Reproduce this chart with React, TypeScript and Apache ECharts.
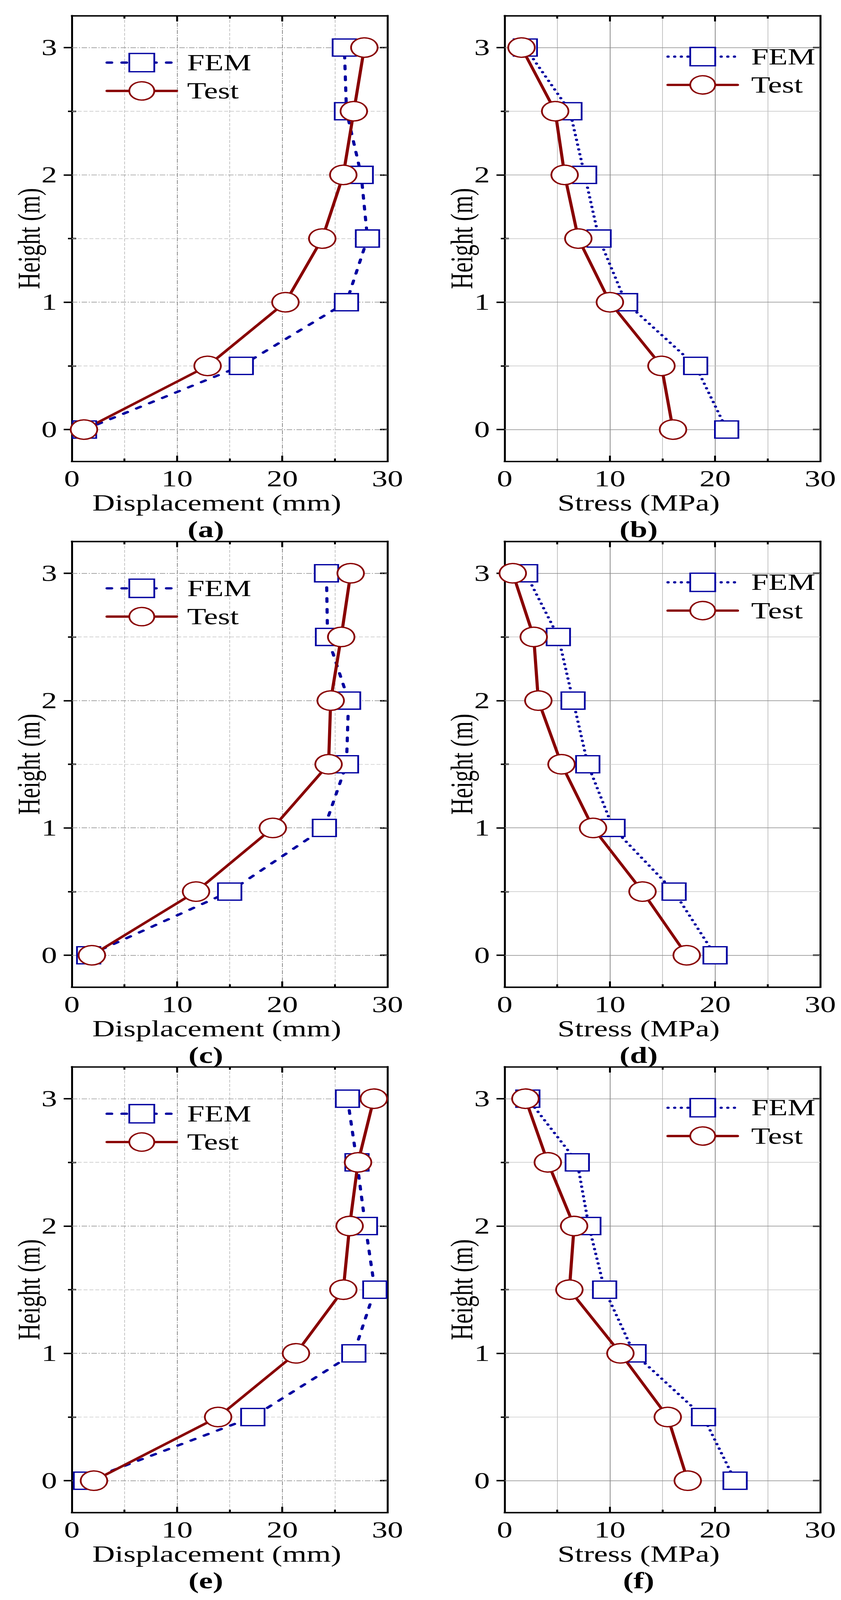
import { useEffect, useRef } from "react";
import * as echarts from "echarts";

// heights (m) where every profile is sampled
const heights = [0, 0.5, 1, 1.5, 2, 2.5, 3];
const yMajorTicks = [0, 1, 2, 3];
const yMinorTicks = [0.5, 1.5, 2.5];

// displacement (mm) / stress (MPa), listed bottom to top like `heights`
const femA = [1.2, 16.1, 26.1, 28.1, 27.5, 26.1, 25.9];
const testA = [1.15, 12.9, 20.3, 23.8, 25.8, 26.8, 27.8];
const femB = [21.1, 18.15, 11.5, 8.97, 7.6, 6.2, 1.96];
const testB = [16.0, 14.9, 10.0, 7.0, 5.7, 4.8, 1.6];
const femC = [1.6, 15.0, 24.0, 26.1, 26.3, 24.3, 24.2];
const testC = [1.9, 11.8, 19.1, 24.4, 24.6, 25.6, 26.5];
const femD = [20.0, 16.1, 10.3, 7.9, 6.5, 5.1, 2.0];
const testD = [17.3, 13.1, 8.4, 5.4, 3.2, 2.76, 0.77];
const femE = [1.3, 17.2, 26.8, 28.8, 27.9, 27.1, 26.2];
const testE = [2.1, 13.9, 21.3, 25.8, 26.4, 27.2, 28.7];
const femF = [21.9, 18.9, 12.3, 9.5, 8.0, 6.9, 2.2];
const testF = [17.4, 15.5, 11.0, 6.15, 6.6, 4.1, 1.97];

const FONT = '"Liberation Serif", "Times New Roman", serif';
const BLUE = "#0000a0";
const RED = "#880000";
const PAGE_W = 2153;
const PAGE_H = 5597;

type PanelDef = {
  label: string;
  xName: string;
  fem: number[];
  test: number[];
  stress: boolean; // right column: dotted FEM, legend top-right, solid grid
  col: number;
  row: number;
};

const panels: PanelDef[] = [
  { label: "(a)", xName: "Displacement (mm)", fem: femA, test: testA, stress: false, col: 0, row: 0 },
  { label: "(b)", xName: "Stress (MPa)", fem: femB, test: testB, stress: true, col: 1, row: 0 },
  { label: "(c)", xName: "Displacement (mm)", fem: femC, test: testC, stress: false, col: 0, row: 1 },
  { label: "(d)", xName: "Stress (MPa)", fem: femD, test: testD, stress: true, col: 1, row: 1 },
  { label: "(e)", xName: "Displacement (mm)", fem: femE, test: testE, stress: false, col: 0, row: 2 },
  { label: "(f)", xName: "Stress (MPa)", fem: femF, test: testF, stress: true, col: 1, row: 2 },
];

function buildOption(p: PanelDef): echarts.EChartsOption {
  const majorGrid = {
    color: "#8a8a8a",
    width: 2,
    type: p.stress ? ("solid" as const) : [14, 4, 3, 4],
  };
  const minorGrid = {
    color: "#c4c4c4",
    width: 2,
    type: p.stress ? ("solid" as const) : [10, 5],
  };
  const border = { color: "#000", width: 5, cap: "square" as const };
  const yBase = { type: "value" as const, min: -0.25, max: 3.25, splitLine: { show: false } };

  // horizontal grid lines (the y axis runs from -0.25, so they are drawn as mark lines)
  const yGridLines = [...yMajorTicks, ...yMinorTicks].map((v) => ({
    yAxis: v,
    lineStyle: yMajorTicks.includes(v) ? majorGrid : minorGrid,
  }));

  return {
    animation: false,
    textStyle: { fontFamily: FONT, color: "#000" },
    grid: { left: 184, top: 55, width: 808, height: 1559 },
    legend: {
      orient: "vertical",
      left: p.stress ? 598 : 270,
      top: p.stress ? 158 : 179,
      padding: 0,
      itemWidth: 178,
      itemHeight: 80,
      itemGap: 19,
      selectedMode: false,
      lineStyle: { width: 8 },
      itemStyle: { borderWidth: 4.5 },
      textStyle: { fontFamily: FONT, fontSize: 80, color: "#000", padding: [0, 0, 0, p.stress ? 30 : 22] },
      data: ["FEM", "Test"],
    },
    xAxis: [
      {
        type: "value",
        min: 0,
        max: 30,
        interval: 10,
        position: "bottom",
        name: p.xName,
        nameLocation: "middle",
        nameGap: 90,
        nameTextStyle: {
          fontFamily: FONT,
          fontSize: 80,
          color: "#000",
          padding: [0, p.stress ? 122 : 66, 0, 0],
        },
        axisLine: { onZero: false, lineStyle: border },
        axisTick: { inside: true, length: 20, lineStyle: { width: 5, color: "#000" } },
        minorTick: { show: true, splitNumber: 2, length: 10, lineStyle: { width: 5, color: "#000" } },
        axisLabel: { fontFamily: FONT, fontSize: 80, color: "#000", margin: 20 },
        splitLine: { show: true, showMinLine: false, showMaxLine: false, lineStyle: majorGrid },
        minorSplitLine: { show: true, lineStyle: minorGrid },
      },
      {
        type: "value",
        min: 0,
        max: 30,
        interval: 10,
        position: "top",
        axisLine: { onZero: false, lineStyle: border },
        axisTick: { inside: true, length: 20, lineStyle: { width: 5, color: "#000" } },
        minorTick: { show: true, splitNumber: 2, length: 10, lineStyle: { width: 5, color: "#000" } },
        axisLabel: { show: false },
        splitLine: { show: false },
      },
    ],
    yAxis: [
      {
        ...yBase,
        position: "left",
        name: "Height (m)",
        nameLocation: "middle",
        nameGap: 70,
        nameMoveOverlap: false,
        nameTextStyle: { fontFamily: FONT, fontSize: 80, color: "#000" },
        axisLine: { onZero: false, lineStyle: border },
        axisTick: { customValues: yMajorTicks, length: 21, lineStyle: { width: 5, color: "#000" } },
        axisLabel: { customValues: yMajorTicks, fontFamily: FONT, fontSize: 80, color: "#000", margin: 38 },
      },
      {
        ...yBase,
        position: "left",
        axisLine: { show: false },
        axisTick: { customValues: yMinorTicks, length: 10, lineStyle: { width: 5, color: "#000" } },
        axisLabel: { show: false },
      },
      {
        ...yBase,
        position: "right",
        axisLine: { onZero: false, lineStyle: border },
        axisTick: { customValues: yMajorTicks, inside: true, length: 19, lineStyle: { width: 5, color: "#000" } },
        axisLabel: { show: false },
      },
      {
        ...yBase,
        position: "right",
        axisLine: { show: false },
        axisTick: { customValues: yMinorTicks, length: 11, lineStyle: { width: 5, color: "#000" } },
        axisLabel: { show: false },
      },
    ],
    series: [
      {
        name: "FEM",
        type: "line",
        xAxisIndex: 0,
        yAxisIndex: 0,
        data: heights.map((h, i) => [p.fem[i], h]),
        symbol: "rect",
        symbolSize: 60,
        showAllSymbol: true,
        clip: false,
        lineStyle: {
          color: BLUE,
          width: 8,
          cap: "round",
          type: p.stress ? [0.5, 16.5] : [12, 26],
        },
        itemStyle: { color: "#fff", borderColor: BLUE, borderWidth: 4.5 },
        markLine: {
          silent: true,
          z: 1,
          symbol: ["none", "none"],
          label: { show: false },
          data: yGridLines,
        },
      },
      {
        name: "Test",
        type: "line",
        xAxisIndex: 0,
        yAxisIndex: 0,
        data: heights.map((h, i) => [p.test[i], h]),
        symbol: "circle",
        symbolSize: 68,
        showAllSymbol: true,
        clip: false,
        lineStyle: { color: RED, width: 8, cap: "round" },
        itemStyle: { color: "#fff", borderColor: RED, borderWidth: 4.5 },
      },
    ],
    graphic: [
      {
        type: "text",
        x: 527,
        y: 1852,
        style: {
          text: p.label,
          fontFamily: FONT,
          fontSize: 80,
          fontWeight: "bold",
          fill: "#000",
          align: "center",
          verticalAlign: "middle",
        },
      },
    ],
  };
}

function PanelChart({ panel }: { panel: PanelDef }) {
  const ref = useRef<HTMLDivElement>(null);

  useEffect(() => {
    if (!ref.current) return;
    const chart = echarts.init(ref.current, undefined, { renderer: "svg" });
    chart.setOption(buildOption(panel));
    return () => chart.dispose();
  }, [panel]);

  return (
    <div
      ref={ref}
      style={{
        position: "absolute",
        left: panel.col * 1108,
        top: panel.row * 1838.5,
        width: 1045,
        height: 1910,
      }}
    />
  );
}

export default function App() {
  useEffect(() => {
    document.body.style.margin = "0";
  }, []);

  // the browser may not open as tall as the figure; squeeze it vertically so all of it stays in view
  const k = Math.min(1, window.innerHeight / PAGE_H);

  return (
    <div
      style={{
        position: "absolute",
        left: 0,
        top: 0,
        width: PAGE_W,
        height: Math.floor(PAGE_H * k),
        overflow: "hidden",
        background: "#fff",
      }}
    >
      <div
        style={{
          position: "relative",
          width: PAGE_W,
          height: PAGE_H,
          transform: `scaleY(${k})`,
          transformOrigin: "0 0",
        }}
      >
        {panels.map((p) => (
          <PanelChart key={p.label} panel={p} />
        ))}
      </div>
    </div>
  );
}
